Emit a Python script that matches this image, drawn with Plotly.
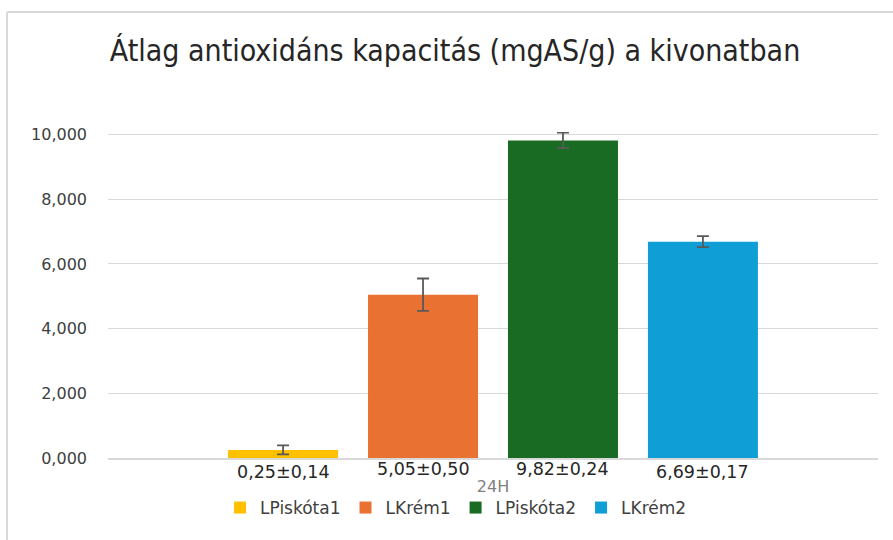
import plotly.graph_objects as go

# data
category = ["24H"]
series_names = ["LPiskóta1", "LKrém1", "LPiskóta2", "LKrém2"]
means = [0.25, 5.05, 9.82, 6.69]
sds = [0.14, 0.50, 0.24, 0.17]
value_labels = ["0,25±0,14", "5,05±0,50", "9,82±0,24", "6,69±0,17"]
colors = ["#FFC000", "#E97132", "#196B24", "#0F9ED5"]

title_text = "Átlag antioxidáns kapacitás (mgAS/g) a kivonatban"

BARGAP = 0.273
GROUPGAP = 0.214
FONT = "DejaVu Sans"

fig = go.Figure()
for name, m, s, c in zip(series_names, means, sds, colors):
    fig.add_trace(go.Bar(
        x=category, y=[m], name=name,
        marker=dict(color=c, line_width=0),
        error_y=dict(type="data", array=[s], visible=True,
                     color="#595959", thickness=1.8, width=6),
    ))

# value labels centered under each bar of the group
w = 1 - BARGAP
slot = w / len(means)
for i, lab in enumerate(value_labels):
    cx = 0.5 - w / 2 + slot * (i + 0.5)
    fig.add_annotation(text=lab, xref="x domain", yref="y", x=cx, y=0,
                       xanchor="center", yanchor="top",
                       yshift=1 - (3 if i in (0, 3) else 0),
                       showarrow=False,
                       font=dict(family=FONT, size=17.5, color="#262626"))

fig.update_layout(
    width=893, height=540,
    margin=dict(l=108, r=15, t=132, b=82, autoexpand=False),
    paper_bgcolor="white", plot_bgcolor="white",
    barmode="group", bargap=BARGAP, bargroupgap=GROUPGAP,
    separators=",.",
    title=dict(text=title_text, x=455 / 893, xanchor="center",
               y=1 - 50 / 540, yanchor="middle",
               font=dict(family="DejaVu Sans Condensed, Roboto", size=30,
                         color="#262626")),
    legend=dict(orientation="h", x=0.452, xanchor="center",
                yref="container", y=1 - 508 / 540, yanchor="middle",
                bgcolor="rgba(0,0,0,0)",
                font=dict(family=FONT, size=17, color="#404040"),
                itemwidth=30, traceorder="normal"),
    showlegend=True,
)

fig.update_yaxes(range=[0, 10.08], dtick=2, tick0=0, tickformat=".3f",
                 showgrid=True, gridcolor="#d9d9d9", gridwidth=1.2,
                 zeroline=False, showline=False, ticks="", automargin=False,
                 ticklabelstandoff=20,
                 tickfont=dict(family=FONT, size=16, color="#404040"))
fig.update_xaxes(showline=True, linecolor="#d9d9d9", linewidth=1.5,
                 ticks="", ticklabelstandoff=13, automargin=False,
                 tickfont=dict(family=FONT, size=16, color="#7f7f7f"))

# chart frame (top and left edges visible in the reference)
fig.add_shape(type="line", xref="paper", yref="paper",
              x0=(7 - 108) / 770, x1=(893 - 108) / 770,
              y0=(458 - 12) / 326, y1=(458 - 12) / 326,
              line=dict(color="#d9d9d9", width=2))
fig.add_shape(type="line", xref="paper", yref="paper",
              x0=(7 - 108) / 770, x1=(7 - 108) / 770,
              y0=(458 - 12) / 326, y1=(458 - 545) / 326,
              line=dict(color="#d9d9d9", width=2))

fig.write_html("out.html", config={"displayModeBar": False},
               post_script="document.body.style.margin='0';"
                           "document.body.style.overflow='hidden';")
